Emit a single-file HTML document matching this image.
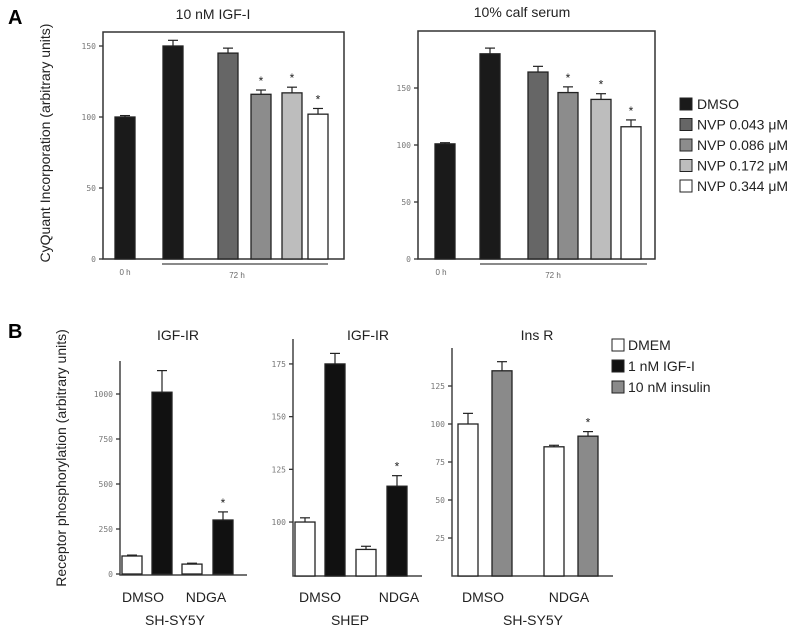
<!DOCTYPE html>
<html><head><meta charset="utf-8">
<style>
html,body{margin:0;padding:0;background:#fff;}
svg{display:block;font-family:"Liberation Sans",sans-serif;}
.tk{font-size:8px;fill:#777;font-family:"DejaVu Sans Mono","Liberation Mono",monospace;}
.lbl{font-size:14px;fill:#222;}
</style></head>
<body>
<svg id="fig" width="800" height="631" viewBox="0 0 800 631">
<text x="8" y="24" font-size="20" font-weight="bold">A</text>
<text x="8" y="338" font-size="20" font-weight="bold">B</text>
<text class="lbl" transform="translate(50,143) rotate(-90)" text-anchor="middle" font-size="13">CyQuant Incorporation (arbitrary units)</text>
<text class="lbl" transform="translate(66,458) rotate(-90)" text-anchor="middle" font-size="13">Receptor phosphorylation (arbitrary units)</text>
<text class="lbl" x="213" y="19" text-anchor="middle">10 nM IGF-I</text>
<text class="lbl" x="522" y="17" text-anchor="middle">10% calf serum</text>
<text class="lbl" x="178" y="340" text-anchor="middle">IGF-IR</text>
<text class="lbl" x="368" y="340" text-anchor="middle">IGF-IR</text>
<text class="lbl" x="537" y="340" text-anchor="middle">Ins R</text>
<g id="g"></g>
</svg>
<script>
// Panel A data
const a1Values = [100, 150, 145, 116, 117, 102];
const a1Errors = [1, 4, 3.5, 3, 4, 4];
const a2Values = [101, 180, 164, 146, 140, 116];
const a2Errors = [1, 5, 5, 5, 5, 6];
const aStars = [false, false, false, true, true, true];
const aTicks = [0, 50, 100, 150];
const aLegend = ["DMSO", "NVP 0.043 \u03bcM", "NVP 0.086 \u03bcM", "NVP 0.172 \u03bcM", "NVP 0.344 \u03bcM"];
// Panel B data
const b1Values = [100, 1010, 55, 300];
const b1Errors = [5, 120, 5, 45];
const b1Ticks = [0, 250, 500, 750, 1000];
const b2Values = [100, 175, 87, 117];
const b2Errors = [2, 5, 1.5, 5];
const b2Ticks = [100, 125, 150, 175];
const b3Values = [100, 135, 85, 92];
const b3Errors = [7, 6, 1, 3];
const b3Ticks = [25, 50, 75, 100, 125];
const bStars = [false, false, false, true];
const bCategories = ["DMSO", "NDGA"];
const bLegend = ["DMEM", "1 nM IGF-I", "10 nM insulin"];

const NS = "http://www.w3.org/2000/svg";
const G = document.getElementById('g');
function mk(tag, attrs){const e=document.createElementNS(NS,tag);for(const k in attrs)e.setAttribute(k,attrs[k]);G.appendChild(e);return e;}

const aFills = ["#1a1a1a","#1a1a1a","#666","#8c8c8c","#bdbdbd","#fff"];
function drawBars(cfg, values, errors, stars, fills, prefix){
  const y = v => cfg.y0 - (v - cfg.vmin) * cfg.scale;
  values.forEach((v,i)=>{
    const x = cfg.xs[i], w = cfg.w;
    const top = y(v), et = y(v+errors[i]);
    const ln=mk('line',{x1:x+w/2,x2:x+w/2,y1:top,y2:et,stroke:'#222','stroke-width':1.2});
    
    
    const cap=mk('line',{x1:x+w/2-5,x2:x+w/2+5,y1:et,y2:et,stroke:'#222','stroke-width':1.2});
    
    
    const r=mk('rect',{x:x,y:top,width:w,height:cfg.y0-top,fill:fills[i],stroke:'#222','stroke-width':1.3});
    
    
    if(stars[i]){
      const s=mk('text',{x:x+w/2,y:et-5,'text-anchor':'middle','font-size':12,fill:'#222'});
      s.textContent='*';
      
      
    }
  });
}
function drawTicks(cfg, ticks, prefix){
  const y = v => cfg.y0 - (v - cfg.vmin) * cfg.scale;
  ticks.forEach(t=>{
    const l=mk('line',{x1:cfg.ax-4,x2:cfg.ax,y1:y(t),y2:y(t),stroke:'#333','stroke-width':1.3});
    
    
    const tx=mk('text',{x:cfg.ax-7,y:y(t)+3,'text-anchor':'end',class:'tk'});
    tx.textContent=t;
    
    
  });
}
function box(x1,y1,x2,y2,name){
  const r=mk('rect',{x:x1,y:y1,width:x2-x1,height:y2-y1,fill:'none',stroke:'#333','stroke-width':1.5});
  
  
}
function axes(x,yt,yb,xr,name){
  const p=mk('path',{d:`M${x},${yt} L${x},${yb} L${xr},${yb}`,fill:'none',stroke:'#444','stroke-width':1.5});
  
  
}
function txt(x,y,s,size,name,anchor,fill){
  const t=mk('text',{x:x,y:y,'font-size':size,'text-anchor':anchor||'middle',fill:fill||'#222'});
  t.textContent=s;
  
  
  return t;
}

// A1
const cA1={y0:259,vmin:0,scale:71/50,ax:103,w:20,xs:[115,163,218,251,282,308]};
box(103,32,344,259,'plot-a1-frame');
drawTicks(cA1,aTicks,'a1');
drawBars(cA1,a1Values,a1Errors,aStars,aFills,'a1');
txt(125,275,'0 h',8,'a1-0h-label','middle','#666');
mk('line',{x1:162,x2:328,y1:264,y2:264,stroke:'#444','stroke-width':1.3});
txt(237,278,'72 h',8,'a1-72h-label','middle','#666');
// A2
const cA2={y0:259,vmin:0,scale:57/50,ax:418,w:20,xs:[435,480,528,558,591,621]};
box(418,31,655,259,'plot-a2-frame');
drawTicks(cA2,aTicks,'a2');
drawBars(cA2,a2Values,a2Errors,aStars,aFills,'a2');
txt(441,275,'0 h',8,'a2-0h-label','middle','#666');
mk('line',{x1:480,x2:647,y1:264,y2:264,stroke:'#444','stroke-width':1.3});
txt(553,278,'72 h',8,'a2-72h-label','middle','#666');
// A legend
const aLegFills=["#1a1a1a","#666","#8c8c8c","#bdbdbd","#fff"];
aLegend.forEach((s,i)=>{
  const yy=98+i*20.5;
  const r=mk('rect',{x:680,y:yy,width:12,height:12,fill:aLegFills[i],stroke:'#222','stroke-width':1});
  
  
  txt(697,yy+11,s,14,'legend-a-entry-'+i,'start');
});

// B
const bFillsIGF=["#fff","#111","#fff","#111"];
const bFillsIns=["#fff","#8a8a8a","#fff","#8a8a8a"];
const cB1={y0:574,vmin:0,scale:45/250,ax:120,w:20,xs:[122,152,182,213]};
axes(120,361,575,247,'plot-b1-axes');
drawTicks(cB1,b1Ticks,'b1');
drawBars(cB1,b1Values,b1Errors,bStars,bFillsIGF,'b1');
txt(143,602,bCategories[0],14,'b1-cat-0');
txt(206,602,bCategories[1],14,'b1-cat-1');
txt(175,625,'SH-SY5Y',14,'b1-cell-line');

const cB2={y0:576,vmin:74.4,scale:52.7/25,ax:293,w:20,xs:[295,325,356,387]};
axes(293,339,576,422,'plot-b2-axes');
drawTicks(cB2,b2Ticks,'b2');
drawBars(cB2,b2Values,b2Errors,bStars,bFillsIGF,'b2');
txt(320,602,bCategories[0],14,'b2-cat-0');
txt(399,602,bCategories[1],14,'b2-cat-1');
txt(350,625,'SHEP',14,'b2-cell-line');

const cB3={y0:576,vmin:0,scale:38/25,ax:452,w:20,xs:[458,492,544,578]};
axes(452,348,576,613,'plot-b3-axes');
drawTicks(cB3,b3Ticks,'b3');
drawBars(cB3,b3Values,b3Errors,bStars,bFillsIns,'b3');
txt(483,602,bCategories[0],14,'b3-cat-0');
txt(569,602,bCategories[1],14,'b3-cat-1');
txt(533,625,'SH-SY5Y',14,'b3-cell-line');

const bLegFills=["#fff","#111","#8a8a8a"];
bLegend.forEach((s,i)=>{
  const yy=339+i*21;
  const r=mk('rect',{x:612,y:yy,width:12,height:12,fill:bLegFills[i],stroke:'#222','stroke-width':1});
  
  
  txt(628,yy+11,s,14,'legend-b-entry-'+i,'start');
});
</script>
</body></html>
